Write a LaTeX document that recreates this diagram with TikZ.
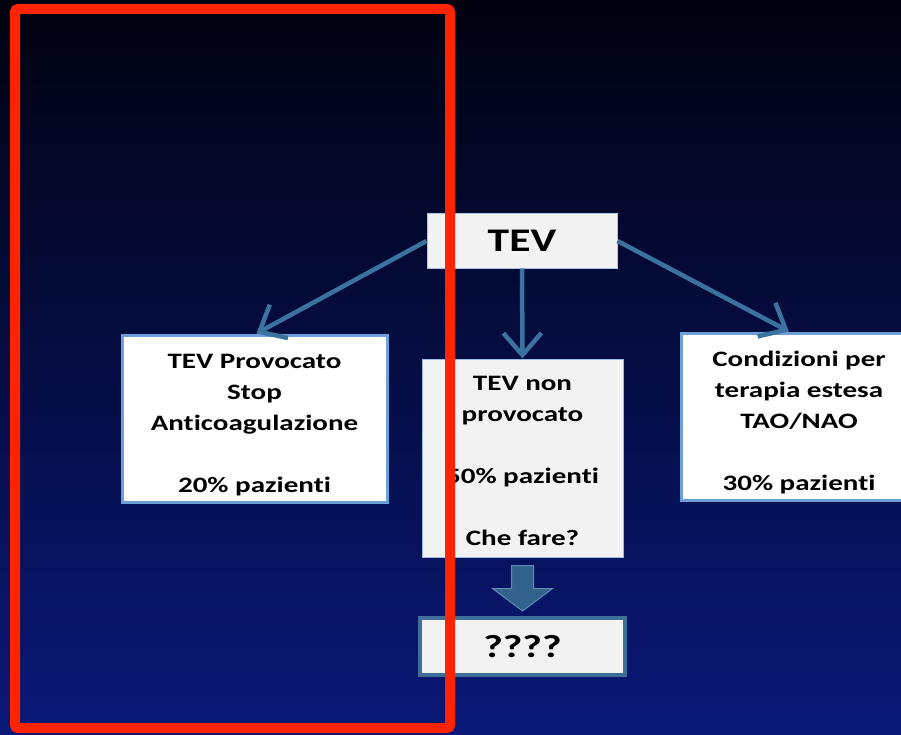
\documentclass[tikz,border=0pt]{standalone}
\usepackage{fontspec}
\setmainfont[FakeStretch=1.32, Ligatures=NoCommon]{Carlito}
\usetikzlibrary{arrows.meta,calc}
\definecolor{bgtop}{HTML}{01020F}
\definecolor{bgbot}{HTML}{0A1878}
\definecolor{redframe}{HTML}{FF2400}
\definecolor{conn}{HTML}{3A73A0}
\definecolor{lightborder}{HTML}{6F9FD8}
\definecolor{grayfill}{HTML}{F2F2F2}
\definecolor{qborder}{HTML}{3F6F98}
\definecolor{blockfill}{HTML}{31618C}
\newcommand{\lowerby}[1]{\rule{0pt}{#1}}
\tikzset{
  boxtext/.style={font=\bfseries\fontsize{22}{31}\selectfont, align=center, text=black, inner sep=0pt},
  whitebox/.style={boxtext, draw=lightborder, line width=3pt, fill=white},
  graybox/.style={boxtext, draw=lightborder!70!white, line width=1pt, fill=grayfill},
  conline/.style={draw=conn, line width=4.5pt, -{Straight Barb[length=22pt,width=38pt]}},
}
\begin{document}
\begin{tikzpicture}[x=1pt,y=-1pt]
\useasboundingbox (0,0) rectangle (901,735);
\clip (0,0) rectangle (901,735);
\shade[top color=bgtop, bottom color=bgbot] (0,0) rectangle (901,735);

\node[graybox, minimum width=190pt, minimum height=54pt, font=\bfseries\fontsize{33}{38}\selectfont, draw=lightborder!60!white] (tev) at (522,241) {TEV};

\node[whitebox, minimum width=265pt, minimum height=167pt] (prov) at (254.5,418.5)
  {\lowerby{27pt}TEV Provocato\\ Stop\\ Anticoagulazione\\ ~\\ 20\% pazienti};

\node[graybox, minimum width=201pt, minimum height=198pt] (nonprov) at (522.5,458)
  {\lowerby{21pt}TEV non\\ provocato\\ ~\\ 50\% pazienti\\ ~\\ Che fare?};

\node[whitebox, minimum width=236pt, minimum height=167pt] (estesa) at (799,416.5)
  {\lowerby{28pt}Condizioni per\\ terapia estesa\\ TAO/NAO\\ ~\\ 30\% pazienti};

\node[boxtext, draw=qborder, line width=4pt, fill=grayfill, minimum width=205pt, minimum height=57pt, font=\bfseries\fontsize{32}{38}\selectfont] (qq) at (522.5,646.5) {????};

\draw[conline] (tev.west) -- ([xshift=2pt]prov.north);
\draw[conline] (tev.south) -- (nonprov.north);
\draw[conline] (tev.east) -- ([xshift=-10pt]estesa.north);

\coordinate (bt) at ($(nonprov.south)+(0,8)$);
\coordinate (bb) at ($(qq.north)+(0,-5)$);
\fill[blockfill, draw=conn!80!white, line width=1pt]
  ($(bt)+(-11,0)$) -- ($(bt)+(11,0)$) -- ($(bt)+(11,23)$) -- ($(bt)+(30,23)$)
  -- (bb) -- ($(bt)+(-30,23)$) -- ($(bt)+(-11,23)$) -- cycle;

\draw[redframe, line width=10pt, rounded corners=3pt] (15,9) rectangle (450,728);
\end{tikzpicture}
\end{document}
